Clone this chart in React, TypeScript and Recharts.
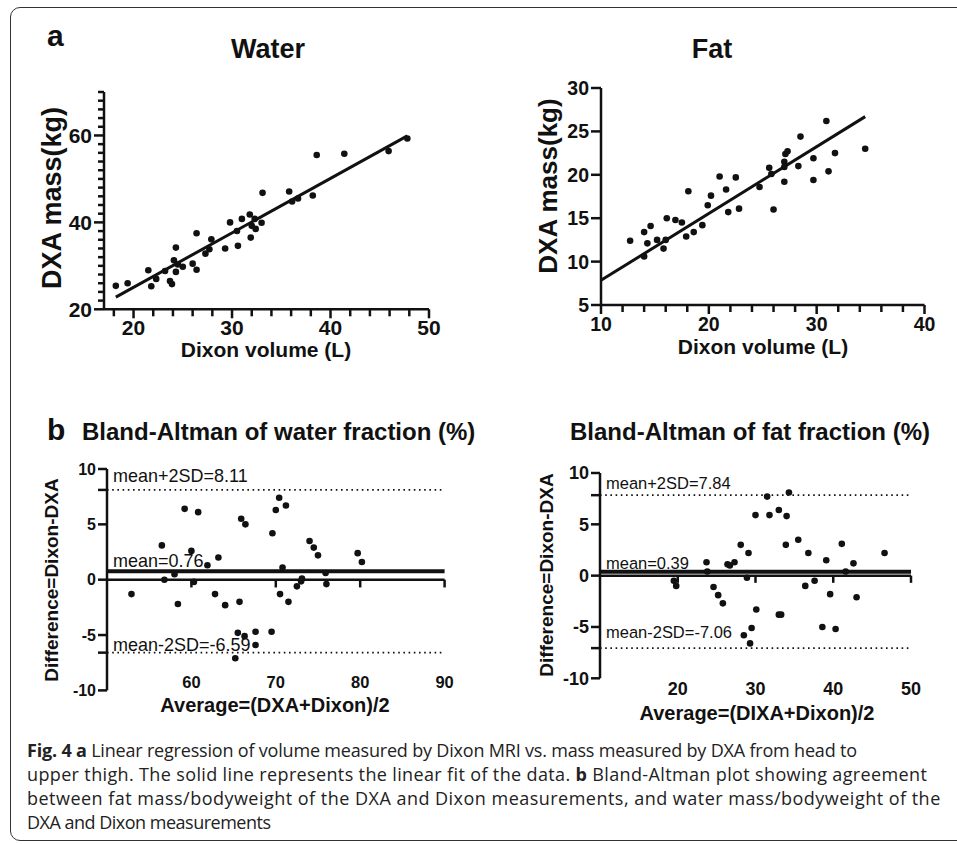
import React from "react";
import { ScatterChart, Scatter, XAxis, YAxis, ReferenceLine } from "recharts";

// ---- data ----
const waterDixon = [18.2, 19.4, 21.5, 21.8, 22.3, 23.2, 23.7, 23.9, 24.1, 24.3, 24.3, 24.5, 25.0, 26.0, 26.4, 26.4, 27.3, 27.7, 27.9, 29.3, 29.8, 30.5, 30.6, 31.0, 31.8, 31.9, 32.0, 32.3, 32.4, 33.0, 33.1, 35.8, 36.1, 36.7, 38.2, 38.6, 41.4, 45.9, 47.8];
const waterDxa = [25.4, 26.0, 29.0, 25.3, 27.0, 28.8, 26.5, 25.8, 31.3, 34.2, 28.6, 30.3, 29.8, 30.5, 29.1, 37.5, 32.8, 33.8, 36.1, 34.0, 40.0, 38.0, 34.6, 40.8, 41.8, 36.5, 39.2, 40.8, 38.5, 39.9, 46.8, 47.1, 44.8, 45.5, 46.2, 55.5, 55.8, 56.4, 59.3];
const waterFitX = [18.2, 47.8];
const waterFitY = [22.8, 59.9];

const fatDixon = [12.7, 14.0, 14.0, 14.3, 14.6, 15.2, 15.8, 16.0, 16.1, 16.9, 17.5, 17.9, 18.1, 18.6, 19.4, 19.9, 20.2, 21.0, 21.6, 21.8, 22.5, 22.8, 24.7, 25.6, 25.8, 26.0, 27.0, 27.0, 27.0, 27.1, 27.3, 28.3, 28.5, 29.7, 29.7, 30.9, 31.1, 31.7, 34.5];
const fatDxa = [12.4, 10.6, 13.4, 12.1, 14.1, 12.5, 11.5, 12.5, 15.0, 14.8, 14.5, 12.9, 18.1, 13.4, 14.2, 16.5, 17.6, 19.8, 18.3, 15.7, 19.7, 16.1, 18.6, 20.8, 20.1, 16.0, 19.2, 21.5, 20.9, 22.4, 22.7, 21.0, 24.4, 21.9, 19.4, 26.2, 20.4, 22.5, 23.0];
const fatFitX = [10, 34.5];
const fatFitY = [7.84, 26.7];

const waterAvg = [52.9, 56.5, 56.8, 58.0, 58.4, 59.2, 60.0, 60.3, 60.8, 61.9, 62.8, 63.2, 64.0, 65.7, 65.9, 66.4, 69.6, 70.0, 70.4, 70.8, 70.5, 71.2, 71.5, 72.5, 73.0, 73.1, 74.0, 74.5, 75.0, 75.9, 76.0, 79.7, 80.2, 65.5, 66.3, 67.6, 67.6, 69.5, 65.2];
const waterDiff = [-1.3, 3.1, 0.0, 0.5, -2.2, 6.4, 2.6, -0.2, 6.1, 1.3, -1.3, 2.0, -2.3, -2.0, 5.5, 5.0, 4.2, 6.3, 7.4, 1.1, -1.3, 6.7, -2.0, -0.6, -0.15, 0.1, 3.5, 2.9, 2.2, 0.6, -0.4, 2.4, 1.6, -4.8, -5.1, -4.7, -5.9, -4.7, -7.1];
const waterStats = { mean: 0.76, upper: 8.11, lower: -6.59 };

const fatAvg = [19.5, 19.8, 23.7, 23.8, 24.6, 25.2, 25.8, 26.4, 26.7, 27.3, 28.1, 28.9, 29.1, 30.0, 30.1, 29.5, 28.5, 29.3, 31.5, 31.8, 33.0, 33.0, 33.3, 33.9, 34.0, 34.3, 35.5, 36.4, 36.8, 37.6, 38.6, 39.1, 39.6, 40.3, 41.1, 41.6, 42.6, 43.0, 46.6];
const fatDiff = [-0.5, -1.0, 1.3, 0.4, -1.1, -1.9, -2.7, 1.1, 1.0, 1.3, 3.0, -0.2, 2.2, 5.9, -3.3, -5.1, -5.8, -6.6, 7.7, 5.9, 6.4, -3.8, -3.8, 3.0, 5.8, 8.1, 3.5, -1.0, 2.2, -0.5, -5.0, 1.5, -1.8, -5.2, 3.1, 0.4, 1.2, -2.1, 2.2];
const fatStats = { mean: 0.39, upper: 7.84, lower: -7.06 };

// ---- ticks ----
const waterXTicks = [18, 20, 22, 24, 26, 28, 30, 32, 34, 36, 38, 40, 42, 44, 46, 48, 50];
const waterXMajor = [20, 30, 40, 50];
const waterYTicks = [20, 22, 24, 26, 28, 30, 32, 34, 36, 38, 40, 42, 44, 46, 48, 50, 52, 54, 56, 58, 60, 62, 64, 66, 68, 70];
const waterYMajor = [20, 40, 60];
const fatXTicks = [10, 12, 14, 16, 18, 20, 22, 24, 26, 28, 30, 32, 34, 36, 38, 40];
const fatXMajor = [10, 20, 30, 40];
const fatYTicks = [5, 10, 15, 20, 25, 30];
const waterBaXTicks = [60, 70, 80, 90];
const fatBaXTicks = [20, 30, 40, 50];
const baYMajor = [-10, -5, 0, 5, 10];

const FONT = "'Liberation Sans', Arial, Helvetica, sans-serif";
const INK = "#111";
const YW = 70;
const XH = 50;
const MT = 10;
const MR = 20;

type Pt = { x: number; y: number };
const zip = (xs: number[], ys: number[]): Pt[] => xs.map((x, i) => ({ x, y: ys[i] }));

const dot = (p: any) => <circle cx={p.cx} cy={p.cy} r={3.3} fill={INK} />;

function makeYTick(major: number[], len: number, minorLen: number, fontSize: number) {
  return (p: any) => {
    const v = p.payload.value;
    const isMajor = major.includes(v);
    const l = isMajor ? len : minorLen;
    return (
      <g>
        <line x1={p.x - l} x2={p.x} y1={p.y} y2={p.y} stroke={INK} strokeWidth={2.5} />
        {isMajor && (
          <text x={p.x - l - 2} y={p.y} dy="0.36em" textAnchor="end" fontFamily={FONT} fontWeight="bold" fontSize={fontSize} fill={INK}>
            {v}
          </text>
        )}
      </g>
    );
  };
}

function makeXTick(major: number[], len: number, minorLen: number, fontSize: number, gap: number, drawLine: boolean) {
  return (p: any) => {
    const v = p.payload.value;
    const isMajor = major.includes(v);
    const l = isMajor ? len : minorLen;
    return (
      <g>
        {drawLine && <line x1={p.x} x2={p.x} y1={p.y} y2={p.y + l} stroke={INK} strokeWidth={2.5} />}
        {isMajor && (
          <text x={p.x} y={p.y + gap} dy="0.72em" textAnchor="middle" fontFamily={FONT} fontWeight="bold" fontSize={fontSize} fill={INK}>
            {v}
          </text>
        )}
      </g>
    );
  };
}

type PanelProps = {
  plotLeft: number;
  plotTop: number;
  plotW: number;
  plotH: number;
  xDomain: [number, number];
  yDomain: [number, number];
  xTicks: number[];
  yTicks: number[];
  xTick: (p: any) => React.ReactElement;
  yTick: (p: any) => React.ReactElement;
  xAxisLine: boolean;
  points: Pt[];
  extras: React.ReactElement[];
};

function Panel(props: PanelProps) {
  const w = YW + props.plotW + MR;
  const h = MT + props.plotH + XH;
  return (
    <div style={{ position: "absolute", left: props.plotLeft - YW, top: props.plotTop - MT, width: w, height: h }}>
      <ScatterChart width={w} height={h} margin={{ top: MT, right: MR, bottom: 0, left: 0 }}>
        <XAxis
          type="number"
          dataKey="x"
          domain={props.xDomain}
          ticks={props.xTicks}
          interval={0}
          height={XH}
          tickSize={0}
          tickMargin={0}
          tickLine={false}
          tick={props.xTick}
          axisLine={props.xAxisLine ? { stroke: INK, strokeWidth: 2.5 } : false}
          allowDataOverflow
        />
        <YAxis
          type="number"
          dataKey="y"
          domain={props.yDomain}
          ticks={props.yTicks}
          interval={0}
          width={YW}
          tickSize={0}
          tickMargin={0}
          tickLine={false}
          tick={props.yTick}
          axisLine={{ stroke: INK, strokeWidth: 2.5 }}
          allowDataOverflow
        />
        {props.extras}
        <Scatter data={props.points} shape={dot} isAnimationActive={false} />
      </ScatterChart>
    </div>
  );
}

function meanLabel(text: string, dy: number, fontSize: number) {
  return (p: any) => (
    <text x={p.viewBox.x + 6} y={p.viewBox.y - dy} fontFamily={FONT} fontSize={fontSize} fill={INK}>
      {text}
    </text>
  );
}

function baExtras(stats: { mean: number; upper: number; lower: number }, xTicks: number[], tickLen: number, fontSize: number, dys: number[]) {
  return [
    <ReferenceLine key="zero" y={0} stroke={INK} strokeWidth={2.5} />,
    ...xTicks.map((t) => (
      <ReferenceLine key={"t" + t} segment={[{ x: t, y: 0 }, { x: t, y: -tickLen }]} stroke={INK} strokeWidth={2.5} />
    )),
    <ReferenceLine key="up" y={stats.upper} stroke={INK} strokeWidth={1.6} strokeDasharray="1.6 3.6" label={meanLabel(`mean+2SD=${stats.upper}`, dys[0], fontSize)} />,
    <ReferenceLine key="mean" y={stats.mean} stroke={INK} strokeWidth={4} label={meanLabel(`mean=${stats.mean}`, dys[1], fontSize)} />,
    <ReferenceLine key="lo" y={stats.lower} stroke={INK} strokeWidth={1.6} strokeDasharray="1.6 3.6" label={meanLabel(`mean-2SD=${stats.lower}`, dys[2], fontSize)} />,
  ];
}

const bold = { fontFamily: FONT, fontWeight: "bold" as const, fill: INK };

const capLine = (top: number, spacing: number): React.CSSProperties => ({
  position: "absolute",
  left: 27,
  top,
  fontFamily: "'Open Sans', 'Noto Sans', sans-serif",
  fontSize: 18,
  lineHeight: "24px",
  color: "#222",
  whiteSpace: "nowrap",
  letterSpacing: spacing,
});

export default function App() {
  const waterBaYTicks = [-10, waterStats.lower, -5, 0, 5, waterStats.upper, 10];
  const fatBaYTicks = [-10, fatStats.lower, -5, 0, 5, fatStats.upper, 10];
  return (
    <div style={{ position: "fixed", left: 0, top: 0, width: 957, height: 844, overflow: "hidden", background: "#fff" }}>
      <div
        style={{
          position: "absolute",
          left: 10,
          top: 7,
          width: 1000,
          height: 834,
          border: "1.5px solid #333",
          borderRadius: 10,
          boxSizing: "border-box",
        }}
      />

      <Panel
        plotLeft={104}
        plotTop={91.7}
        plotW={325}
        plotH={217.3}
        xDomain={[17, 50]}
        yDomain={[20, 70]}
        xTicks={waterXTicks}
        yTicks={waterYTicks}
        xTick={makeXTick(waterXMajor, 9, 7, 21, 11, true)}
        yTick={makeYTick(waterYMajor, 10, 6, 21)}
        xAxisLine
        points={zip(waterDixon, waterDxa)}
        extras={[
          <ReferenceLine key="fit" segment={[{ x: waterFitX[0], y: waterFitY[0] }, { x: waterFitX[1], y: waterFitY[1] }]} stroke={INK} strokeWidth={3} />,
        ]}
      />

      <Panel
        plotLeft={601}
        plotTop={87.7}
        plotW={323.5}
        plotH={217}
        xDomain={[10, 40]}
        yDomain={[5, 30]}
        xTicks={fatXTicks}
        yTicks={fatYTicks}
        xTick={makeXTick(fatXMajor, 9, 7, 19.5, 12, true)}
        yTick={makeYTick(fatYTicks, 10, 6, 19.5)}
        xAxisLine
        points={zip(fatDixon, fatDxa)}
        extras={[
          <ReferenceLine key="fit" segment={[{ x: fatFitX[0], y: fatFitY[0] }, { x: fatFitX[1], y: fatFitY[1] }]} stroke={INK} strokeWidth={3} />,
        ]}
      />

      <Panel
        plotLeft={106.7}
        plotTop={469.3}
        plotW={337.6}
        plotH={221.4}
        xDomain={[50, 90]}
        yDomain={[-10, 10]}
        xTicks={waterBaXTicks}
        yTicks={waterBaYTicks}
        xTick={makeXTick(waterBaXTicks, 0, 0, 16.5, -14, false)}
        yTick={makeYTick(baYMajor, 9, 9, 16)}
        xAxisLine={false}
        points={zip(waterAvg, waterDiff)}
        extras={baExtras(waterStats, waterBaXTicks, 0.7, 18, [8, 4, 2])}
      />

      <Panel
        plotLeft={600}
        plotTop={472.7}
        plotW={311}
        plotH={205.3}
        xDomain={[10, 50]}
        yDomain={[-10, 10]}
        xTicks={fatBaXTicks}
        yTicks={fatBaYTicks}
        xTick={makeXTick(fatBaXTicks, 0, 0, 18, 4, false)}
        yTick={makeYTick(baYMajor, 9, 9, 18)}
        xAxisLine={false}
        points={zip(fatAvg, fatDiff)}
        extras={baExtras(fatStats, fatBaXTicks, 0.7, 16.5, [6, 3, 10])}
      />

      <svg width={957} height={844} style={{ position: "absolute", left: 0, top: 0, pointerEvents: "none" }}>
        <text x={47} y={46} fontSize={30} {...bold}>a</text>
        <text x={268} y={58} fontSize={27} textAnchor="middle" {...bold}>Water</text>
        <text x={712} y={58} fontSize={27} textAnchor="middle" {...bold}>Fat</text>
        <text transform="translate(61,198) rotate(-90)" fontSize={27} textAnchor="middle" {...bold}>DXA mass(kg)</text>
        <text transform="translate(557,186) rotate(-90)" fontSize={26} textAnchor="middle" {...bold}>DXA mass(kg)</text>
        <text x={266} y={357} fontSize={21} textAnchor="middle" {...bold}>Dixon volume (L)</text>
        <text x={763} y={354} fontSize={21} textAnchor="middle" {...bold}>Dixon volume (L)</text>

        <text x={47} y={440} fontSize={30} {...bold}>b</text>
        <text x={82} y={440} fontSize={24} {...bold}>Bland-Altman of water fraction (%)</text>
        <text x={570} y={440} fontSize={24} {...bold}>Bland-Altman of fat fraction (%)</text>
        <text transform="translate(58,580) rotate(-90)" fontSize={19} textAnchor="middle" {...bold}>Difference=Dixon-DXA</text>
        <text transform="translate(553,575) rotate(-90)" fontSize={19} textAnchor="middle" {...bold}>Difference=Dixon-DXA</text>
        <text x={275} y={712} fontSize={20} textAnchor="middle" {...bold}>Average=(DXA+Dixon)/2</text>
        <text x={757} y={720} fontSize={20} textAnchor="middle" {...bold}>Average=(DIXA+Dixon)/2</text>
      </svg>

      <div style={capLine(738, -0.19)}>
        <b>Fig. 4 a</b> Linear regression of volume measured by Dixon MRI vs. mass measured by DXA from head to
      </div>
      <div style={capLine(762, 0.36)}>
        upper thigh. The solid line represents the linear fit of the data. <b>b</b> Bland-Altman plot showing agreement
      </div>
      <div style={capLine(786, 0.48)}>
        between fat mass/bodyweight of the DXA and Dixon measurements, and water mass/bodyweight of the
      </div>
      <div style={capLine(810, -0.5)}>DXA and Dixon measurements</div>
    </div>
  );
}
